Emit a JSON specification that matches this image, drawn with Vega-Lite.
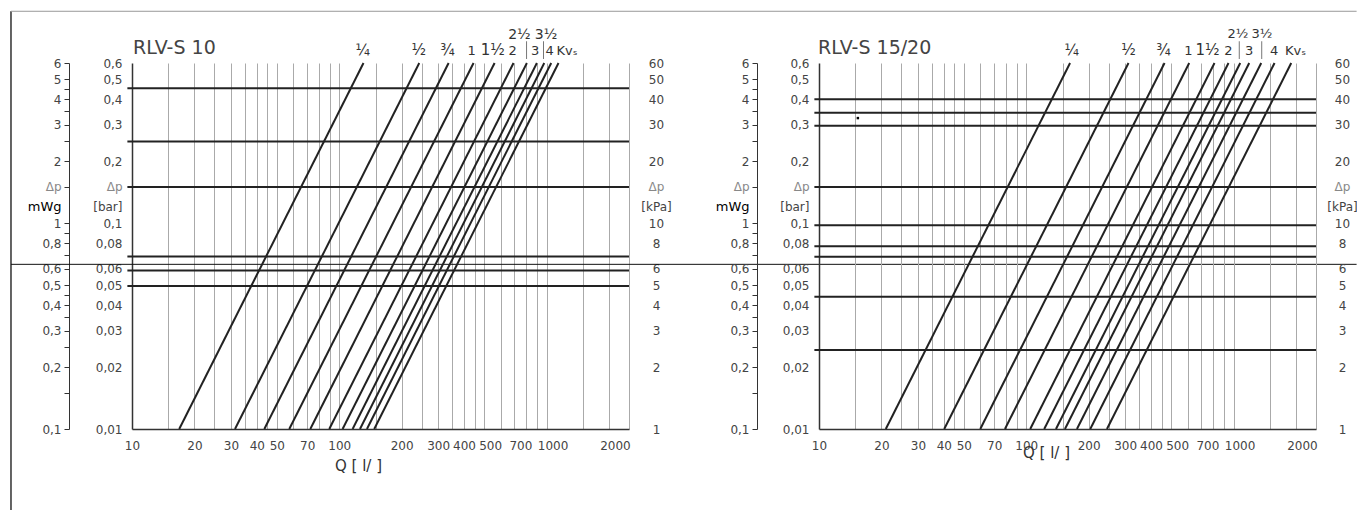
{
  "$schema": "https://vega.github.io/schema/vega-lite/v6.json",
  "background": "white",
  "padding": {"left": 10, "top": 10, "right": 0, "bottom": 0},
  "config": {
    "view": {"stroke": null},
    "font": "DejaVu Sans",
    "text": {"font": "DejaVu Sans"},
    "axis": {"labelFont": "DejaVu Sans", "labelFontSize": 12, "labelColor": "#444", "labelOverlap": false, "labelFlush": false, "labelBound": false}
  },
  "datasets": {
    "diag": [
      {"p": "10", "kv": "a", "q": 16.9, "bar": 0.01}, {"p": "10", "kv": "a", "q": 130.9, "bar": 0.6},
      {"p": "10", "kv": "b", "q": 31.4, "bar": 0.01}, {"p": "10", "kv": "b", "q": 243.2, "bar": 0.6},
      {"p": "10", "kv": "c", "q": 43.5, "bar": 0.01}, {"p": "10", "kv": "c", "q": 337.0, "bar": 0.6},
      {"p": "10", "kv": "d", "q": 57.4, "bar": 0.01}, {"p": "10", "kv": "d", "q": 444.6, "bar": 0.6},
      {"p": "10", "kv": "e", "q": 72.5, "bar": 0.01}, {"p": "10", "kv": "e", "q": 561.6, "bar": 0.6},
      {"p": "10", "kv": "f", "q": 89.5, "bar": 0.01}, {"p": "10", "kv": "f", "q": 693.3, "bar": 0.6},
      {"p": "10", "kv": "g", "q": 103.8, "bar": 0.01}, {"p": "10", "kv": "g", "q": 804.0, "bar": 0.6},
      {"p": "10", "kv": "h", "q": 116.0, "bar": 0.01}, {"p": "10", "kv": "h", "q": 898.5, "bar": 0.6},
      {"p": "10", "kv": "i", "q": 125.9, "bar": 0.01}, {"p": "10", "kv": "i", "q": 975.2, "bar": 0.6},
      {"p": "10", "kv": "j", "q": 136.0, "bar": 0.01}, {"p": "10", "kv": "j", "q": 1053.5, "bar": 0.6},
      {"p": "10", "kv": "k", "q": 147.5, "bar": 0.01}, {"p": "10", "kv": "k", "q": 1142.5, "bar": 0.6},
      {"p": "15/20", "kv": "a", "q": 21.0, "bar": 0.01}, {"p": "15/20", "kv": "a", "q": 162.7, "bar": 0.6},
      {"p": "15/20", "kv": "b", "q": 40.2, "bar": 0.01}, {"p": "15/20", "kv": "b", "q": 311.4, "bar": 0.6},
      {"p": "15/20", "kv": "c", "q": 60.0, "bar": 0.01}, {"p": "15/20", "kv": "c", "q": 464.8, "bar": 0.6},
      {"p": "15/20", "kv": "d", "q": 78.9, "bar": 0.01}, {"p": "15/20", "kv": "d", "q": 611.2, "bar": 0.6},
      {"p": "15/20", "kv": "e", "q": 104.5, "bar": 0.01}, {"p": "15/20", "kv": "e", "q": 809.5, "bar": 0.6},
      {"p": "15/20", "kv": "f", "q": 122.1, "bar": 0.01}, {"p": "15/20", "kv": "f", "q": 945.8, "bar": 0.6},
      {"p": "15/20", "kv": "g", "q": 139.1, "bar": 0.01}, {"p": "15/20", "kv": "g", "q": 1077.5, "bar": 0.6},
      {"p": "15/20", "kv": "h", "q": 153.7, "bar": 0.01}, {"p": "15/20", "kv": "h", "q": 1190.5, "bar": 0.6},
      {"p": "15/20", "kv": "i", "q": 175.6, "bar": 0.01}, {"p": "15/20", "kv": "i", "q": 1360.2, "bar": 0.6},
      {"p": "15/20", "kv": "j", "q": 203.6, "bar": 0.01}, {"p": "15/20", "kv": "j", "q": 1577.1, "bar": 0.6},
      {"p": "15/20", "kv": "k", "q": 245.1, "bar": 0.01}, {"p": "15/20", "kv": "k", "q": 1898.5, "bar": 0.6}
    ],
    "hl": [
      {"p": "10", "bar": 0.452}, {"p": "10", "bar": 0.249}, {"p": "10", "bar": 0.15},
      {"p": "10", "bar": 0.0688}, {"p": "10", "bar": 0.0589}, {"p": "10", "bar": 0.0495},
      {"p": "15/20", "bar": 0.4}, {"p": "15/20", "bar": 0.344}, {"p": "15/20", "bar": 0.297},
      {"p": "15/20", "bar": 0.15}, {"p": "15/20", "bar": 0.0977}, {"p": "15/20", "bar": 0.0773},
      {"p": "15/20", "bar": 0.0686}, {"p": "15/20", "bar": 0.0439}, {"p": "15/20", "bar": 0.0242}
    ],
    "lab": [
      {"p": "10", "kv": "¼", "q": 129.7, "tier": 1},
      {"p": "10", "kv": "½", "q": 242, "tier": 1},
      {"p": "10", "kv": "¾", "q": 333, "tier": 1},
      {"p": "10", "kv": "1", "q": 435, "tier": 1},
      {"p": "10", "kv": "1½", "q": 550, "tier": 1},
      {"p": "10", "kv": "2", "q": 686, "tier": 1},
      {"p": "10", "kv": "2½", "q": 740, "tier": 2},
      {"p": "10", "kv": "3", "q": 880, "tier": 1},
      {"p": "10", "kv": "3½", "q": 994, "tier": 2},
      {"p": "10", "kv": "4", "q": 1035, "tier": 1},
      {"p": "10", "kv": "Kvₛ", "q": 1256, "tier": 1},
      {"p": "15/20", "kv": "¼", "q": 166, "tier": 1},
      {"p": "15/20", "kv": "½", "q": 311, "tier": 1},
      {"p": "15/20", "kv": "¾", "q": 459, "tier": 1},
      {"p": "15/20", "kv": "1", "q": 606, "tier": 1},
      {"p": "15/20", "kv": "1½", "q": 750, "tier": 1},
      {"p": "15/20", "kv": "2", "q": 945, "tier": 1},
      {"p": "15/20", "kv": "2½", "q": 1051, "tier": 2},
      {"p": "15/20", "kv": "3", "q": 1191, "tier": 1},
      {"p": "15/20", "kv": "3½", "q": 1372, "tier": 2},
      {"p": "15/20", "kv": "4", "q": 1571, "tier": 1},
      {"p": "15/20", "kv": "Kvₛ", "q": 1990, "tier": 1}
    ],
    "tk": [
      {"p": "10", "q": 801}, {"p": "10", "q": 967},
      {"p": "15/20", "q": 1066}, {"p": "15/20", "q": 1368}
    ],
    "dot": [
      {"p": "15/20", "q": 15.4, "bar": 0.324}
    ]
  },
  "bounds": "flush",
  "spacing": 190,
  "hconcat": [
    {
      "width": 497,
      "height": 366,
      "resolve": {"scale": {"x": "shared", "y": "shared"}, "axis": {"x": "independent", "y": "independent"}},
      "layer": [
        {
          "data": {"values": [{}]},
          "mark": {"type": "rule", "clip": false, "color": "#111", "strokeWidth": 1.3},
          "encoding": {
            "x": {"datum": 2.607, "type": "quantitative", "scale": {"type": "log", "domain": [10, 2500], "nice": false}, "axis": null},
            "y": {"datum": 1.0701, "type": "quantitative", "scale": {"type": "log", "domain": [0.01, 0.6], "nice": false}, "axis": null},
            "y2": {"datum": 0.00404}
          }
        },
        {
          "data": {"values": [{}]},
          "mark": {"type": "rule", "clip": false, "color": "#999", "strokeWidth": 1},
          "encoding": {
            "x": {"datum": 2.607, "type": "quantitative", "scale": {"type": "log", "domain": [10, 2500], "nice": false}, "axis": null},
            "x2": {"datum": 8100000},
            "y": {"datum": 1.0701, "type": "quantitative", "scale": {"type": "log", "domain": [0.01, 0.6], "nice": false}, "axis": null}
          }
        },
        {
          "data": {"values": [{}]},
          "mark": {"type": "rule", "clip": false, "color": "#111", "strokeWidth": 1},
          "encoding": {
            "x": {"datum": 2.607, "type": "quantitative", "scale": {"type": "log", "domain": [10, 2500], "nice": false}, "axis": null},
            "x2": {"datum": 8100000},
            "y": {"datum": 0.0631, "type": "quantitative", "scale": {"type": "log", "domain": [0.01, 0.6], "nice": false}, "axis": null}
          }
        },
        {
          "data": {"name": "hl"},
          "transform": [{"filter": "datum.p == '10'"}],
          "mark": {"type": "rule", "clip": false, "color": "#222", "strokeWidth": 2},
          "encoding": {
            "x": {"datum": 9.5, "type": "quantitative", "scale": {"type": "log", "domain": [10, 2500], "nice": false}, "axis": null},
            "x2": {"datum": 2500},
            "y": {
              "field": "bar", "type": "quantitative",
              "scale": {"type": "log", "domain": [0.01, 0.6], "nice": false},
              "axis": {
                "orient": "left", "offset": 0, "title": null, "grid": false,
                "values": [0.6, 0.5, 0.4, 0.3, 0.2, 0.15, 0.12, 0.1, 0.08, 0.06, 0.05, 0.04, 0.03, 0.02, 0.01],
                "ticks": false, "tickSize": 0, "domain": true, "domainColor": "#333", "domainWidth": 1.5,
                "labelPadding": 10,
                "labelColor": {"condition": {"test": "datum.value == 0.15", "value": "#888"}, "value": "#444"},
                "labelExpr": "datum.value == 0.15 ? 'Δp' : datum.value == 0.12 ? '[bar]' : replace(format(datum.value, '.2~f'), '.', ',')"
              }
            }
          }
        },
        {
          "data": {"name": "diag"},
          "transform": [{"filter": "datum.p == '10'"}],
          "mark": {"type": "line", "clip": false, "color": "#222", "strokeWidth": 2},
          "encoding": {
            "x": {
              "field": "q", "type": "quantitative",
              "scale": {"type": "log", "domain": [10, 2500], "nice": false},
              "axis": {
                "orient": "bottom",
                "values": [10, 15, 20, 25, 30, 35, 40, 45, 50, 60, 70, 80, 90, 100, 150, 200, 250, 300, 350, 400, 450, 500, 600, 700, 800, 900, 1000, 1500, 2000, 2500],
                "grid": true, "gridColor": "#aaaaaa", "gridWidth": 1,
                "gridOpacity": {"condition": {"test": "datum.value == 10", "value": 0}, "value": 1},
                "ticks": false, "tickSize": 0, "domain": true, "domainColor": "#333", "domainWidth": 1.5,
                "labelPadding": 11,
                "labelOffset": {"condition": {"test": "datum.value >= 500", "value": 6}, "value": 0},
                "labelExpr": "indexof([10,20,30,40,50,70,100,200,300,400,500,700,1000,2000], datum.value) >= 0 ? format(datum.value, 'd') : ''",
                "title": "Q [ l/ ]", "titleX": 226, "titleY": 36, "titleAlign": "center", "titleBaseline": "middle",
                "titleFont": "DejaVu Sans", "titleFontSize": 15, "titleFontWeight": "normal", "titleColor": "#333"
              }
            },
            "y": {
              "field": "bar", "type": "quantitative",
              "scale": {"type": "log", "domain": [0.01, 0.6], "nice": false},
              "axis": {
                "orient": "left", "offset": 63, "title": null, "grid": false,
                "values": [0.6, 0.5, 0.45, 0.4, 0.35, 0.3, 0.25, 0.2, 0.15, 0.12, 0.1, 0.09, 0.08, 0.07, 0.06, 0.05, 0.045, 0.04, 0.035, 0.03, 0.025, 0.02, 0.015, 0.01],
                "ticks": true, "tickSize": 5, "tickColor": "#333", "tickWidth": 1,
                "tickOpacity": {"condition": {"test": "datum.value == 0.12", "value": 0}, "value": 1},
                "domain": true, "domainColor": "#333", "domainWidth": 1,
                "labelPadding": 3,
                "labelFontSize": {"condition": {"test": "datum.value == 0.12", "value": 13}, "value": 12},
                "labelColor": {"condition": [{"test": "datum.value == 0.12", "value": "#000"}, {"test": "datum.value == 0.15", "value": "#888"}], "value": "#444"},
                "labelExpr": "datum.value == 0.15 ? 'Δp' : datum.value == 0.12 ? 'mWg' : indexof([0.45,0.35,0.25,0.09,0.07,0.045,0.035,0.025,0.015], datum.value) >= 0 ? '' : replace(format(datum.value * 10, '.1~f'), '.', ',')"
              }
            },
            "detail": {"field": "kv"}
          }
        },
        {
          "data": {"name": "tk"},
          "transform": [{"filter": "datum.p == '10'"}],
          "mark": {"type": "rule", "clip": false, "color": "#777", "strokeWidth": 1},
          "encoding": {
            "x": {"field": "q", "type": "quantitative", "scale": {"type": "log", "domain": [10, 2500], "nice": false}, "axis": null},
            "y": {
              "datum": 0.6275, "type": "quantitative",
              "scale": {"type": "log", "domain": [0.01, 0.6], "nice": false},
              "axis": {
                "orient": "right", "offset": 0, "title": null, "grid": false,
                "values": [0.6, 0.5, 0.4, 0.3, 0.2, 0.15, 0.12, 0.1, 0.08, 0.06, 0.05, 0.04, 0.03, 0.02, 0.01],
                "ticks": false, "tickSize": 0, "domain": false,
                "labelAlign": "center", "labelPadding": 27,
                "labelColor": {"condition": {"test": "datum.value == 0.15", "value": "#888"}, "value": "#444"},
                "labelExpr": "datum.value == 0.15 ? 'Δp' : datum.value == 0.12 ? '[kPa]' : format(datum.value * 100, '.0f')"
              }
            },
            "y2": {"datum": 0.7652}
          }
        },
        {
          "data": {"name": "lab"},
          "transform": [{"filter": "datum.p == '10' && datum.tier == 1"}],
          "mark": {"type": "text", "clip": false, "font": "DejaVu Sans", "color": "#333", "align": "center", "baseline": "alphabetic", "dy": -8},
          "encoding": {
            "x": {"field": "q", "type": "quantitative", "scale": {"type": "log", "domain": [10, 2500], "nice": false}, "axis": null},
            "y": {"datum": 0.6, "type": "quantitative", "scale": {"type": "log", "domain": [0.01, 0.6], "nice": false}, "axis": null},
            "text": {"field": "kv"},
            "size": {"condition": {"test": "indexof(datum.kv, '¼') >= 0 || indexof(datum.kv, '½') >= 0 || indexof(datum.kv, '¾') >= 0", "value": 15}, "value": 13}
          }
        },
        {
          "data": {"name": "lab"},
          "transform": [{"filter": "datum.p == '10' && datum.tier == 2"}],
          "mark": {"type": "text", "clip": false, "font": "DejaVu Sans", "color": "#333", "align": "center", "baseline": "alphabetic", "dy": -24.5},
          "encoding": {
            "x": {"field": "q", "type": "quantitative", "scale": {"type": "log", "domain": [10, 2500], "nice": false}, "axis": null},
            "y": {"datum": 0.6, "type": "quantitative", "scale": {"type": "log", "domain": [0.01, 0.6], "nice": false}, "axis": null},
            "text": {"field": "kv"},
            "size": {"value": 14}
          }
        },
        {
          "data": {"values": [{}]},
          "mark": {"type": "text", "clip": false, "text": "RLV-S 10", "font": "DejaVu Sans", "fontSize": 19, "color": "#444", "align": "left", "baseline": "alphabetic", "dx": 1, "dy": -9.5},
          "encoding": {
            "x": {"datum": 10, "type": "quantitative", "scale": {"type": "log", "domain": [10, 2500], "nice": false}, "axis": null},
            "y": {"datum": 0.6, "type": "quantitative", "scale": {"type": "log", "domain": [0.01, 0.6], "nice": false}, "axis": null}
          }
        }
      ]
    },
    {
      "width": 497,
      "height": 366,
      "resolve": {"scale": {"x": "shared", "y": "shared"}, "axis": {"x": "independent", "y": "independent"}},
      "layer": [
        {
          "data": {"name": "hl"},
          "transform": [{"filter": "datum.p == '15/20'"}],
          "mark": {"type": "rule", "clip": false, "color": "#222", "strokeWidth": 2},
          "encoding": {
            "x": {"datum": 9.5, "type": "quantitative", "scale": {"type": "log", "domain": [10, 2500], "nice": false}, "axis": null},
            "x2": {"datum": 2500},
            "y": {
              "field": "bar", "type": "quantitative",
              "scale": {"type": "log", "domain": [0.01, 0.6], "nice": false},
              "axis": {
                "orient": "left", "offset": 0, "title": null, "grid": false,
                "values": [0.6, 0.5, 0.4, 0.3, 0.2, 0.15, 0.12, 0.1, 0.08, 0.06, 0.05, 0.04, 0.03, 0.02, 0.01],
                "ticks": false, "tickSize": 0, "domain": true, "domainColor": "#333", "domainWidth": 1.5,
                "labelPadding": 10,
                "labelColor": {"condition": {"test": "datum.value == 0.15", "value": "#888"}, "value": "#444"},
                "labelExpr": "datum.value == 0.15 ? 'Δp' : datum.value == 0.12 ? '[bar]' : replace(format(datum.value, '.2~f'), '.', ',')"
              }
            }
          }
        },
        {
          "data": {"name": "diag"},
          "transform": [{"filter": "datum.p == '15/20'"}],
          "mark": {"type": "line", "clip": false, "color": "#222", "strokeWidth": 2},
          "encoding": {
            "x": {
              "field": "q", "type": "quantitative",
              "scale": {"type": "log", "domain": [10, 2500], "nice": false},
              "axis": {
                "orient": "bottom",
                "values": [10, 15, 20, 25, 30, 35, 40, 45, 50, 60, 70, 80, 90, 100, 150, 200, 250, 300, 350, 400, 450, 500, 600, 700, 800, 900, 1000, 1500, 2000, 2500],
                "grid": true, "gridColor": "#aaaaaa", "gridWidth": 1,
                "gridOpacity": {"condition": {"test": "datum.value == 10", "value": 0}, "value": 1},
                "ticks": false, "tickSize": 0, "domain": true, "domainColor": "#333", "domainWidth": 1.5,
                "labelPadding": 11,
                "labelOffset": {"condition": {"test": "datum.value >= 500", "value": 6}, "value": 0},
                "labelExpr": "indexof([10,20,30,40,50,70,100,200,300,400,500,700,1000,2000], datum.value) >= 0 ? format(datum.value, 'd') : ''",
                "title": "Q [ l/ ]", "titleX": 227, "titleY": 23.5, "titleAlign": "center", "titleBaseline": "middle",
                "titleFont": "DejaVu Sans", "titleFontSize": 15, "titleFontWeight": "normal", "titleColor": "#333"
              }
            },
            "y": {
              "field": "bar", "type": "quantitative",
              "scale": {"type": "log", "domain": [0.01, 0.6], "nice": false},
              "axis": {
                "orient": "left", "offset": 62, "title": null, "grid": false,
                "values": [0.6, 0.5, 0.45, 0.4, 0.35, 0.3, 0.25, 0.2, 0.15, 0.12, 0.1, 0.09, 0.08, 0.07, 0.06, 0.05, 0.045, 0.04, 0.035, 0.03, 0.025, 0.02, 0.015, 0.01],
                "ticks": true, "tickSize": 5, "tickColor": "#333", "tickWidth": 1,
                "tickOpacity": {"condition": {"test": "datum.value == 0.12", "value": 0}, "value": 1},
                "domain": true, "domainColor": "#333", "domainWidth": 1,
                "labelPadding": 3,
                "labelFontSize": {"condition": {"test": "datum.value == 0.12", "value": 13}, "value": 12},
                "labelColor": {"condition": [{"test": "datum.value == 0.12", "value": "#000"}, {"test": "datum.value == 0.15", "value": "#888"}], "value": "#444"},
                "labelExpr": "datum.value == 0.15 ? 'Δp' : datum.value == 0.12 ? 'mWg' : indexof([0.45,0.35,0.25,0.09,0.07,0.045,0.035,0.025,0.015], datum.value) >= 0 ? '' : replace(format(datum.value * 10, '.1~f'), '.', ',')"
              }
            },
            "detail": {"field": "kv"}
          }
        },
        {
          "data": {"name": "tk"},
          "transform": [{"filter": "datum.p == '15/20'"}],
          "mark": {"type": "rule", "clip": false, "color": "#777", "strokeWidth": 1},
          "encoding": {
            "x": {"field": "q", "type": "quantitative", "scale": {"type": "log", "domain": [10, 2500], "nice": false}, "axis": null},
            "y": {
              "datum": 0.6275, "type": "quantitative",
              "scale": {"type": "log", "domain": [0.01, 0.6], "nice": false},
              "axis": {
                "orient": "right", "offset": 0, "title": null, "grid": false,
                "values": [0.6, 0.5, 0.4, 0.3, 0.2, 0.15, 0.12, 0.1, 0.08, 0.06, 0.05, 0.04, 0.03, 0.02, 0.01],
                "ticks": false, "tickSize": 0, "domain": false,
                "labelAlign": "center", "labelPadding": 26,
                "labelColor": {"condition": {"test": "datum.value == 0.15", "value": "#888"}, "value": "#444"},
                "labelExpr": "datum.value == 0.15 ? 'Δp' : datum.value == 0.12 ? '[kPa]' : format(datum.value * 100, '.0f')"
              }
            },
            "y2": {"datum": 0.7652}
          }
        },
        {
          "data": {"name": "dot"},
          "mark": {"type": "square", "clip": false, "color": "#000", "size": 6, "opacity": 1},
          "encoding": {
            "x": {"field": "q", "type": "quantitative", "scale": {"type": "log", "domain": [10, 2500], "nice": false}, "axis": null},
            "y": {"field": "bar", "type": "quantitative", "scale": {"type": "log", "domain": [0.01, 0.6], "nice": false}, "axis": null}
          }
        },
        {
          "data": {"name": "lab"},
          "transform": [{"filter": "datum.p == '15/20' && datum.tier == 1"}],
          "mark": {"type": "text", "clip": false, "font": "DejaVu Sans", "color": "#333", "align": "center", "baseline": "alphabetic", "dy": -8},
          "encoding": {
            "x": {"field": "q", "type": "quantitative", "scale": {"type": "log", "domain": [10, 2500], "nice": false}, "axis": null},
            "y": {"datum": 0.6, "type": "quantitative", "scale": {"type": "log", "domain": [0.01, 0.6], "nice": false}, "axis": null},
            "text": {"field": "kv"},
            "size": {"condition": {"test": "indexof(datum.kv, '¼') >= 0 || indexof(datum.kv, '½') >= 0 || indexof(datum.kv, '¾') >= 0", "value": 15}, "value": 13}
          }
        },
        {
          "data": {"name": "lab"},
          "transform": [{"filter": "datum.p == '15/20' && datum.tier == 2"}],
          "mark": {"type": "text", "clip": false, "font": "DejaVu Sans", "color": "#333", "align": "center", "baseline": "alphabetic", "dy": -25},
          "encoding": {
            "x": {"field": "q", "type": "quantitative", "scale": {"type": "log", "domain": [10, 2500], "nice": false}, "axis": null},
            "y": {"datum": 0.6, "type": "quantitative", "scale": {"type": "log", "domain": [0.01, 0.6], "nice": false}, "axis": null},
            "text": {"field": "kv"},
            "size": {"value": 13}
          }
        },
        {
          "data": {"values": [{}]},
          "mark": {"type": "text", "clip": false, "text": "RLV-S 15/20", "font": "DejaVu Sans", "fontSize": 19, "color": "#444", "align": "left", "baseline": "alphabetic", "dx": -1, "dy": -9.5},
          "encoding": {
            "x": {"datum": 10, "type": "quantitative", "scale": {"type": "log", "domain": [10, 2500], "nice": false}, "axis": null},
            "y": {"datum": 0.6, "type": "quantitative", "scale": {"type": "log", "domain": [0.01, 0.6], "nice": false}, "axis": null}
          }
        }
      ]
    }
  ]
}
